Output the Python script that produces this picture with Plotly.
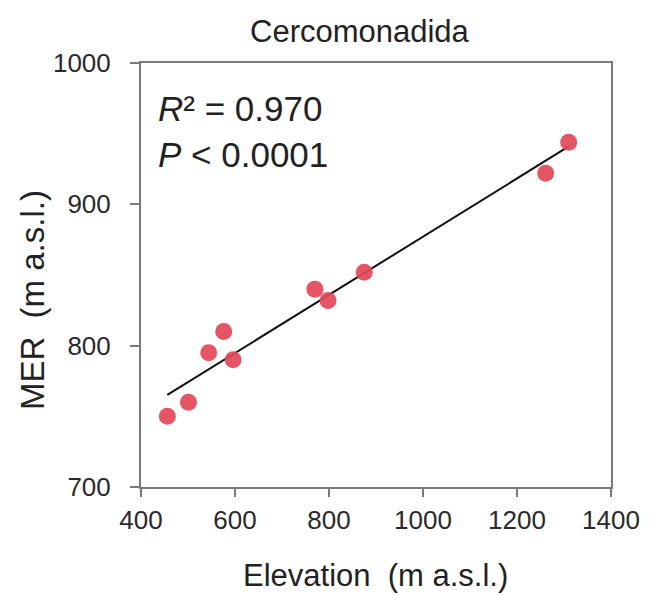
import numpy as np
import plotly.graph_objects as go

# Data
elevation = [456, 501, 544, 576, 596, 770, 798, 875, 1261, 1310]
mer = [750, 760, 795, 810, 790, 840, 832, 852, 922, 944]
x_ticks = [400, 600, 800, 1000, 1200, 1400]
y_ticks = [700, 800, 900, 1000]
title_text = "Cercomonadida"
stats_text = "<i>R</i>² = 0.970<br><i>P</i> < 0.0001"

# Linear fit
slope, intercept = np.polyfit(elevation, mer, 1)
fit_x = [min(elevation), max(elevation)]
fit_y = [slope * v + intercept for v in fit_x]

W, H = 652, 601
ML, MR, MT, MB = 141, 32, 63, 114
FONT = "Liberation Sans, Arial, sans-serif"

fig = go.Figure()
fig.add_trace(go.Scatter(
    x=fit_x, y=fit_y, mode="lines",
    line=dict(color="#111111", width=2), showlegend=False, hoverinfo="skip"))
fig.add_trace(go.Scatter(
    x=elevation, y=mer, mode="markers",
    marker=dict(color="rgb(226,72,88)", size=17, opacity=0.92, line=dict(width=0)),
    showlegend=False))

axis_common = dict(
    showgrid=False, zeroline=False, showline=True, mirror=True,
    linecolor="#7a7a7a", linewidth=2, ticks="outside", tickcolor="#7a7a7a",
    tickwidth=2, tickfont=dict(family=FONT, size=26, color="#2a2a2a"))

fig.update_xaxes(range=[400, 1400], tickvals=x_ticks, ticklen=8,
                 ticklabelstandoff=1, **axis_common)
fig.update_yaxes(range=[700, 1000], tickvals=y_ticks, ticklen=9,
                 ticklabelstandoff=14, **axis_common)

plot_w = W - ML - MR
plot_h = H - MT - MB

def px_x(px):
    return (px - ML) / plot_w

def px_y(py):
    return (H - MB - py) / plot_h

annotations = [
    dict(text=title_text, x=px_x(364), y=px_y(31), xref="paper", yref="paper",
         xanchor="center", yanchor="middle", showarrow=False,
         font=dict(family=FONT, size=31, color="#222222")),
    dict(text="Elevation  (m a.s.l.)", x=px_x(380), y=px_y(575), xref="paper", yref="paper",
         xanchor="center", yanchor="middle", showarrow=False,
         font=dict(family=FONT, size=31, color="#222222")),
    dict(text="MER  (m a.s.l.)", x=px_x(30), y=px_y(300), xref="paper", yref="paper",
         xanchor="center", yanchor="middle", showarrow=False, textangle=-90,
         font=dict(family=FONT, size=33, color="#222222")),
    dict(text=stats_text, x=px_x(156), y=px_y(131), xref="paper", yref="paper",
         xanchor="left", yanchor="middle", align="left", showarrow=False,
         font=dict(family=FONT, size=35, color="#222222")),
]

fig.update_layout(
    width=W, height=H,
    margin=dict(l=ML, r=MR, t=MT, b=MB, pad=0),
    plot_bgcolor="white", paper_bgcolor="white",
    annotations=annotations,
    font=dict(family=FONT),
)

fig.write_html("out.html")
